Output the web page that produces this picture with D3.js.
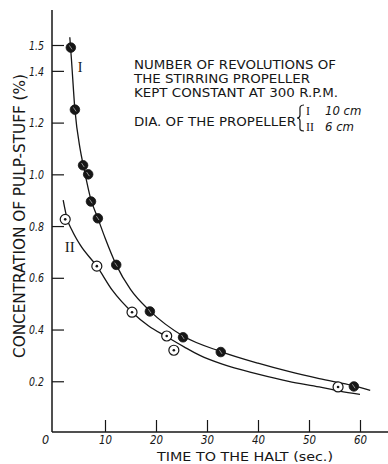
<!DOCTYPE html>
<html><head><meta charset="utf-8">
<script src="https://cdn.jsdelivr.net/npm/d3@7/dist/d3.min.js"></script>
<style>
html,body{margin:0;padding:0;background:#fff;}
svg{display:block;}
</style></head>
<body>
<svg id="chart" width="388" height="464"></svg>
<script>
// ---- data ----
const xTicks = [0, 10, 20, 30, 40, 50, 60];
const yTicks = [0.2, 0.4, 0.6, 0.8, 1.0, 1.2, 1.4, 1.5];

// measured points, propeller I (10 cm) - filled markers
const pointsIx = [3.3, 4.1, 5.7, 6.7, 7.25, 8.6, 12.2, 18.8, 25.3, 32.7, 58.8];
const pointsIy = [1.49, 1.25, 1.035, 1.0, 0.895, 0.83, 0.65, 0.47, 0.37, 0.313, 0.18];

// measured points, propeller II (6 cm) - open dotted markers
const pointsIIx = [2.2, 8.4, 15.3, 22.1, 23.5, 55.7];
const pointsIIy = [0.826, 0.645, 0.467, 0.375, 0.32, 0.178];

// fitted curves
const curveIx = [3.1, 3.4, 4.1, 5.1, 5.8, 7.2, 8.6, 10, 12.2, 15, 18.8, 25.3, 32.7, 40, 46, 52, 58.8, 62];
const curveIy = [1.53, 1.45, 1.25, 1.10, 1.03, 0.905, 0.83, 0.755, 0.65, 0.555, 0.472, 0.375, 0.315, 0.27, 0.238, 0.21, 0.182, 0.165];
const curveIIx = [1.8, 2.6, 3.5, 5.2, 8.4, 11.5, 15.3, 18.5, 22.1, 25.5, 28.6, 33, 40, 46, 52, 56, 60];
const curveIIy = [0.90, 0.826, 0.785, 0.725, 0.645, 0.55, 0.467, 0.415, 0.372, 0.333, 0.30, 0.266, 0.228, 0.20, 0.178, 0.162, 0.149];

const noteLines = [
  "NUMBER OF REVOLUTIONS OF",
  "THE STIRRING PROPELLER",
  "KEPT CONSTANT AT 300 R.P.M.",
  "DIA. OF THE PROPELLER"
];
const legendRoman = ["I", "II"];
const legendSize = ["10 cm", "6 cm"];
const yTitle = "CONCENTRATION OF PULP-STUFF (%)";
const xTitle = "TIME TO THE HALT (sec.)";

// ---- drawing ----
const svg = d3.select("#chart");
const ink = "#161616";
const narrow = "'Liberation Sans Narrow','DejaVu Sans Condensed','Roboto Condensed',sans-serif";

const x = d3.scaleLinear().domain([0, 60]).range([54, 360]);
const y = d3.scaleLinear().domain([0, 1.5]).range([433, 45]);

const axisX0 = 52, axisY0 = 432;

// axis lines
svg.append("line").attr("x1", axisX0).attr("x2", axisX0).attr("y1", 10).attr("y2", axisY0)
  .attr("stroke", ink).attr("stroke-width", 1.5);
svg.append("line").attr("x1", axisX0).attr("x2", 388).attr("y1", axisY0).attr("y2", axisY0)
  .attr("stroke", ink).attr("stroke-width", 1.5);

// y axis (ticks inward, labels outside)
const gy = svg.append("g").attr("transform", `translate(${axisX0},0)`)
  .call(d3.axisLeft(y).tickValues(yTicks).tickFormat(d3.format(".1f"))
    .tickSizeInner(-12).tickSizeOuter(0).tickPadding(8));
gy.select(".domain").remove();
gy.selectAll(".tick line").attr("stroke", ink).attr("stroke-width", 1.2);
gy.selectAll(".tick text").attr("font-family", narrow).attr("font-style", "italic")
  .attr("font-size", 13).attr("fill", ink)
  .attr("textLength", 15).attr("lengthAdjust", "spacingAndGlyphs");

// x axis (ticks inward, labels below)
const gx = svg.append("g").attr("transform", `translate(0,${axisY0})`)
  .call(d3.axisBottom(x).tickValues(xTicks).tickFormat(d3.format("d"))
    .tickSizeInner(-12).tickSizeOuter(0).tickPadding(3));
gx.select(".domain").remove();
gx.selectAll(".tick line").attr("stroke", ink).attr("stroke-width", 1.2)
  .attr("display", d => d === 0 ? "none" : null);
gx.selectAll(".tick text").attr("font-family", narrow).attr("font-style", "italic")
  .attr("font-size", 12.5).attr("fill", ink)
  .attr("dx", d => d === 0 ? -9 : 0)
  .attr("textLength", d => d === 0 ? null : 13)
  .attr("lengthAdjust", "spacingAndGlyphs");

// curves
const line = d3.line().x(d => x(d[0])).y(d => y(d[1])).curve(d3.curveMonotoneX);
svg.append("path").datum(d3.zip(curveIx, curveIy)).attr("d", line)
  .attr("fill", "none").attr("stroke", ink).attr("stroke-width", 1.3);
svg.append("path").datum(d3.zip(curveIIx, curveIIy)).attr("d", line)
  .attr("fill", "none").attr("stroke", ink).attr("stroke-width", 1.3);

// points II (open circle with centre dot)
const pII = svg.append("g").selectAll("g").data(d3.zip(pointsIIx, pointsIIy)).join("g")
  .attr("transform", d => `translate(${x(d[0])},${y(d[1])})`);
pII.append("circle").attr("r", 5).attr("fill", "#fff").attr("stroke", ink).attr("stroke-width", 1.2);
pII.append("circle").attr("r", 1.3).attr("fill", ink);

// points I (filled)
const pI = svg.append("g").selectAll("g").data(d3.zip(pointsIx, pointsIy)).join("g")
  .attr("transform", d => `translate(${x(d[0])},${y(d[1])})`);
pI.append("circle").attr("r", 4.8).attr("fill", ink).attr("stroke", ink).attr("stroke-width", 0.8);
pI.append("path").attr("d", "M-1.5,-2.2L1.2,1.8").attr("stroke", "#fff").attr("stroke-width", 0.9).attr("opacity", 0.6);

// curve labels
svg.append("text").attr("x", x(5.1)).attr("y", y(1.395)).attr("text-anchor", "middle")
  .attr("font-family", "'Liberation Serif',serif").attr("font-size", 14).attr("fill", ink).text(legendRoman[0]);
svg.append("text").attr("x", x(3.1)).attr("y", y(0.7)).attr("text-anchor", "middle")
  .attr("font-family", "'Liberation Serif',serif").attr("font-size", 15).attr("fill", ink).text(legendRoman[1]);

// annotation
const noteX = 134;
const noteBase = [69, 83, 97, 126];
const noteLen = [202, 176, 204, 162];
noteLines.forEach((t, i) => {
  svg.append("text").attr("x", noteX).attr("y", noteBase[i])
    .attr("font-family", narrow).attr("font-size", 11.8).attr("fill", ink)
    .attr("textLength", noteLen[i]).attr("lengthAdjust", "spacingAndGlyphs").text(t);
});
// brace
svg.append("path")
  .attr("d", "M304,105 C299,105 300,108 300,112 L300,115 C300,117 299,118 297,118 C299,118 300,119 300,121 L300,125 C300,129 299,131 304,131")
  .attr("fill", "none").attr("stroke", ink).attr("stroke-width", 1.2);
const legBase = [115, 131];
legendRoman.forEach((r, i) => {
  const t = svg.append("text").attr("x", 306).attr("y", legBase[i]).attr("fill", ink);
  t.append("tspan").attr("font-family", "'Liberation Serif',serif").attr("font-size", 12).text(r);
  t.append("tspan").attr("x", 325).attr("font-family", narrow).attr("font-style", "italic")
    .attr("font-size", 13).text(legendSize[i]);
});

// axis titles
svg.append("text").attr("transform", "translate(25,216) rotate(-90)")
  .attr("text-anchor", "middle").attr("font-family", narrow).attr("font-size", 16).attr("fill", ink)
  .attr("textLength", 284).attr("lengthAdjust", "spacingAndGlyphs").text(yTitle);
svg.append("text").attr("x", 157).attr("y", 460.5)
  .attr("font-family", narrow).attr("font-size", 13).attr("fill", ink)
  .attr("textLength", 176).attr("lengthAdjust", "spacingAndGlyphs").text(xTitle);
</script>
</body></html>
